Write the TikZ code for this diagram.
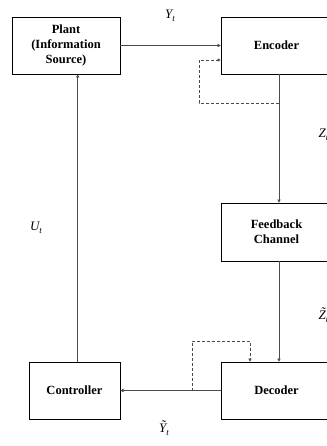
\documentclass[tikz,border=0pt]{standalone}
\usepackage{fontspec}
\setmainfont{Liberation Serif}
\usetikzlibrary{arrows.meta,positioning,calc}
\definecolor{Wire}{HTML}{4A4A4A}
\newcommand{\sig}[2]{{\itshape #1\raisebox{-0.55ex}{\fontsize{9}{9}\selectfont #2}}}
\newcommand{\tld}[1]{\ooalign{#1\cr\hidewidth\raisebox{0.22em}{\char"02DC}\kern-0.1em\hidewidth\cr}}
\tikzset{
  block/.style={draw=black, line width=0.6pt, fill=white, align=center,
                font=\fontsize{12.5}{15}\selectfont\bfseries, inner sep=2pt},
  arrow/.style={-{Triangle[length=3.2pt,width=3.2pt]}, line width=0.6pt, draw=Wire},
  side/.style={arrow, dashed, dash pattern=on 3pt off 2pt},
  lbl/.style={font=\fontsize{13}{15}\selectfont, inner sep=0pt},
}
\begin{document}
\begin{tikzpicture}[x=1pt, y=-1pt]
  \useasboundingbox (0,0) rectangle (326,446);
  % blocks
  \node[block, minimum width=108pt, minimum height=57pt] (plant) at (66,45.5) {Plant\\(Information\\Source)};
  \node[block, minimum width=111pt, minimum height=57pt] (enc) at (276.5,45.5) {Encoder};
  \node[block, minimum width=111pt, minimum height=58pt] (fb) at (276.5,232) {Feedback\\Channel};
  \node[block, minimum width=111pt, minimum height=57pt] (dec) at (276.5,390.5) {Decoder};
  \node[block, minimum width=91pt, minimum height=57pt] (ctrl) at (74.5,390.5) {Controller};
  % forward path
  \draw[arrow] (plant.east) -- (enc.west);
  \draw[arrow] ([xshift=2.5pt]enc.south) -- ([xshift=2.5pt]fb.north);
  \draw[arrow] ([xshift=2.5pt]fb.south) -- ([xshift=2.5pt]dec.north);
  \draw[arrow] (dec.west) -- (ctrl.east);
  \draw[arrow] ([xshift=3.2pt]ctrl.north) -- ([xshift=11.7pt]plant.south);
  % side information (dashed)
  \coordinate (tapE) at (279,103);
  \coordinate (tapD) at (192,391);
  \draw[side] (tapE) -- (199,103) |- ($(enc.west)+(0,14.5)$);
  \draw[side] (tapD) |- (250,341) -- (250,341 |- dec.north);
  % labels
  \node[lbl] (yt) at (170,16) {\sig{Y}{t}};
  \node[lbl, anchor=west] (zt) at (318.5,135) {\sig{Z}{t}};
  \node[lbl, anchor=west] (zh) at (318.5,317) {\sig{\tld{Z}}{t}};
  \node[lbl] (yh) at (164,430) {\sig{\tld{Y}}{t}};
  \node[lbl] (ut) at (36,228) {\sig{U}{t}};
\end{tikzpicture}
\end{document}
